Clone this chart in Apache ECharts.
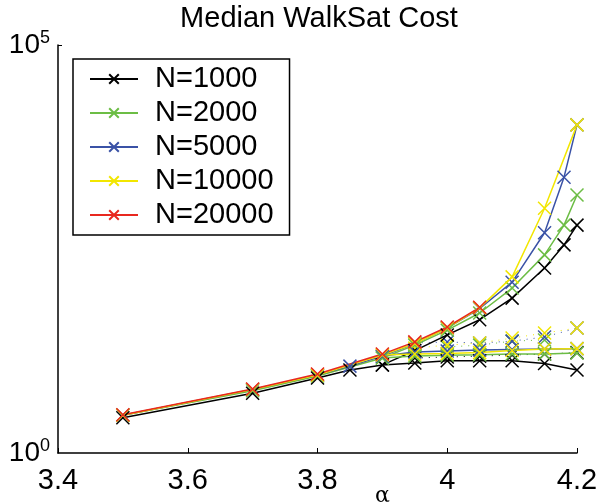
<!DOCTYPE html>
<html>
<head>
<meta charset="utf-8">
<script src="https://cdn.jsdelivr.net/npm/echarts@6/dist/echarts.min.js"></script>
<style>
  html, body { margin: 0; padding: 0; background: #fff; }
  #chart { width: 599px; height: 503px; }
</style>
</head>
<body>
<div id="chart"></div>
<script>
// median cost, upper branch, per N: [alpha, cost]
const n1000Upper = [[3.5, 2.7], [3.7, 5.4], [3.8, 8.3], [3.85, 10.4], [3.9, 12.0], [3.95, 18], [4.0, 28], [4.05, 43], [4.1, 79], [4.15, 185], [4.18, 355], [4.2, 620]];
const n2000Upper = [[3.5, 2.9], [3.7, 5.8], [3.8, 8.8], [3.9, 14.6], [3.95, 21], [4.0, 32], [4.05, 52], [4.1, 105], [4.15, 268], [4.18, 620], [4.2, 1450]];
const n5000Upper = [[3.5, 2.9], [3.7, 6.0], [3.8, 9.0], [3.85, 11.6], [3.9, 15.4], [3.95, 22], [4.0, 34], [4.05, 59], [4.1, 124], [4.15, 500], [4.18, 2400], [4.2, 10500]];
const n10000Upper = [[3.5, 2.9], [3.7, 6.0], [3.8, 9.0], [3.9, 15.9], [3.95, 22], [4.0, 34], [4.05, 60], [4.1, 144], [4.15, 1000], [4.2, 10500]];
const n20000Upper = [[3.5, 2.95], [3.7, 6.1], [3.8, 9.3], [3.9, 16.3], [3.95, 23], [4.0, 35], [4.05, 61]];

// lower branch (solid)
const n1000Lower = [[3.9, 12.0], [3.95, 12.7], [4.0, 13.5], [4.05, 13.5], [4.1, 13.5], [4.15, 12.5], [4.2, 10.4]];
const n2000Lower = [[3.9, 14.6], [3.95, 15.4], [4.0, 15.8], [4.05, 16.0], [4.1, 16.3], [4.15, 16.3], [4.2, 16.8]];
const n5000Lower = [[3.9, 15.4], [3.95, 17.3], [4.0, 17.8], [4.05, 18.3], [4.1, 18.6], [4.15, 18.8], [4.2, 19.0]];
const n10000Lower = [[3.9, 15.9], [3.95, 16.3], [4.0, 16.6], [4.05, 17.0], [4.1, 18.0], [4.15, 18.8], [4.2, 19.0]];

// dotted branch
const n1000Dotted = [[3.95, 14.6], [4.0, 15.0], [4.05, 15.4], [4.1, 15.9], [4.15, 16.3], [4.2, 17.0]];
const n2000Dotted = [[4.0, 19.9], [4.05, 21], [4.1, 23.5], [4.15, 24.3]];
const n5000Dotted = [[3.95, 22.3], [4.0, 22.9], [4.05, 22.3], [4.1, 23.5], [4.15, 26.4], [4.2, 34]];
const n10000Dotted = [[3.95, 19.3], [4.0, 21], [4.05, 22.3], [4.1, 25.6], [4.15, 29.5], [4.2, 34]];

const names = ['N=1000', 'N=2000', 'N=5000', 'N=10000', 'N=20000'];
const colors = ['#000000', '#6cbd45', '#3a52a6', '#f2e600', '#e8281f'];
const xTicks = [3.4, 3.6, 3.8, 4.0, 4.2];

const cross = 'path://M0,0L10,10M10,0L0,10';
const font = 'Liberation Sans';

function line(idx, data, dotted) {
  return {
    name: names[idx],
    type: 'line',
    data: data,
    symbol: cross,
    symbolSize: 13,
    showSymbol: true,
    color: colors[idx],
    itemStyle: { color: colors[idx], borderColor: colors[idx], borderWidth: 1.5 },
    lineStyle: dotted
      ? { color: colors[idx], width: 1, type: [1, 6] }
      : { color: colors[idx], width: 1.5 },
    emphasis: { disabled: true },
    animation: false,
    z: dotted ? 1 : 2
  };
}

const series = [
  line(0, n1000Upper), line(1, n2000Upper), line(2, n5000Upper), line(3, n10000Upper),
  line(0, n1000Lower), line(1, n2000Lower), line(2, n5000Lower), line(3, n10000Lower),
  line(0, n1000Dotted, true), line(1, n2000Dotted, true), line(2, n5000Dotted, true), line(3, n10000Dotted, true),
  line(4, n20000Upper)
];

const chart = echarts.init(document.getElementById('chart'), null, { renderer: 'canvas' });
chart.setOption({
  animation: false,
  textStyle: { fontFamily: font },
  title: {
    text: 'Median WalkSat Cost',
    left: 314,
    textAlign: 'center',
    top: 0,
    padding: [4, 5, 5, 5],
    textStyle: { fontFamily: font, fontSize: 29, fontWeight: 'normal', color: '#000' }
  },
  legend: {
    data: names,
    orient: 'vertical',
    left: 73,
    top: 59,
    padding: [5, 16, 5, 16],
    itemWidth: 48,
    itemHeight: 12,
    itemGap: 4,
    itemTextGap: 18,
    borderColor: '#000',
    borderWidth: 1.5,
    borderRadius: 0,
    backgroundColor: '#fff',
    textStyle: { fontFamily: font, fontSize: 29, lineHeight: 30, color: '#000', padding: [0, 0, 0, 12] }
  },
  grid: { left: 58, right: 22, top: 45, bottom: 50, containLabel: false, outerBoundsMode: 'none' },
  xAxis: {
    type: 'value',
    min: 3.4,
    max: 4.2,
    interval: 0.2,
    name: 'α',
    nameLocation: 'middle',
    nameGap: 32,
    nameMoveOverlap: false,
    nameTextStyle: { fontFamily: 'DejaVu Serif', fontSize: 22, color: '#000', padding: [0, 0, 0, 130] },
    axisLine: { lineStyle: { color: '#000', width: 1.5 } },
    axisTick: { inside: true, length: 5, lineStyle: { color: '#000', width: 1 } },
    axisLabel: {
      color: '#000', fontSize: 29, fontFamily: font, margin: 13,
      formatter: v => (xTicks.some(t => Math.abs(t - v) < 1e-6) ? String(+v.toFixed(1)) : '')
    },
    splitLine: { show: false }
  },
  yAxis: {
    type: 'log',
    logBase: 10,
    min: 1,
    max: 100000,
    axisLine: { show: true, lineStyle: { color: '#000', width: 1.5 } },
    axisTick: { show: true, inside: true, length: 4, customValues: [100000], lineStyle: { color: '#000', width: 1 } },
    axisLabel: {
      margin: 8,
      customValues: [1, 100000],
      formatter: v => (Math.abs(v - 1) < 1e-9 ? '{b|10}{s|0}' : Math.abs(v - 100000) < 1e-3 ? '{b|10}{s|5}' : ''),
      rich: {
        b: { fontFamily: font, fontSize: 28, color: '#000' },
        s: { fontFamily: font, fontSize: 18, color: '#000', verticalAlign: 'top', padding: [0, 0, 14, 0] }
      }
    },
    splitLine: { show: false }
  },
  series: series
});
</script>
</body>
</html>
